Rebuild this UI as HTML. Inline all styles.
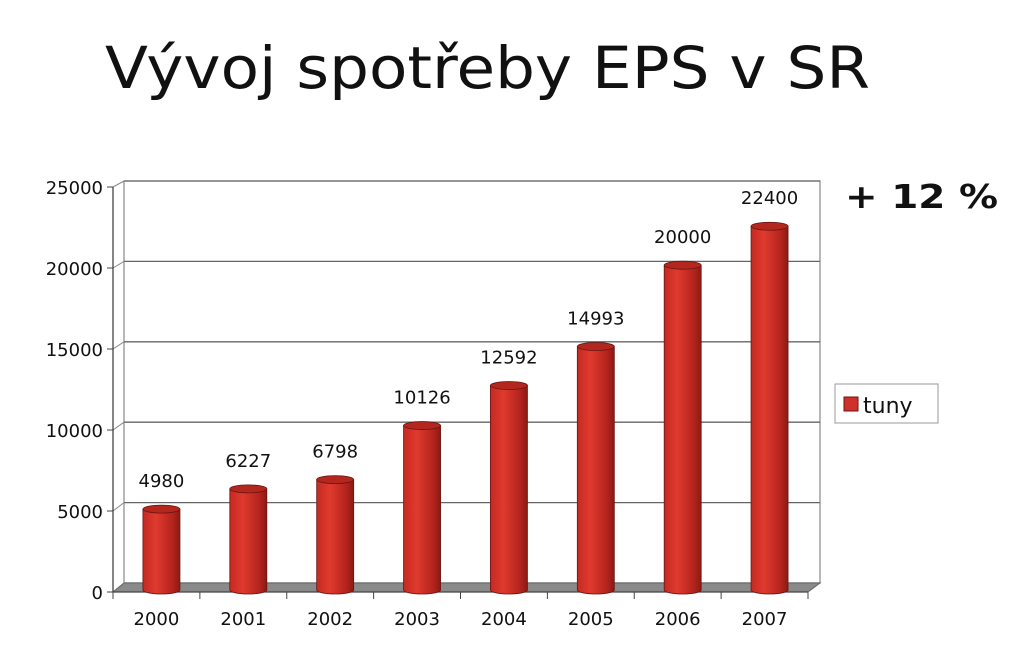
<!DOCTYPE html>
<html><head><meta charset="utf-8"><style>
html,body{margin:0;padding:0;background:#fff;}
svg{display:block;font-family:"DejaVu Sans","Liberation Sans",sans-serif;}
</style></head><body>
<svg id="chart" width="1024" height="659" viewBox="0 0 1024 659" xmlns="http://www.w3.org/2000/svg">
<defs>
<linearGradient id="cyl" x1="0" x2="1" y1="0" y2="0">
<stop offset="0" stop-color="#c42a22"/><stop offset="0.35" stop-color="#e03a2e"/><stop offset="0.8" stop-color="#b3241d"/><stop offset="1" stop-color="#8a1a14"/>
</linearGradient>
</defs>
<text x="105" y="88" font-size="58" fill="#111" textLength="765" lengthAdjust="spacingAndGlyphs">Vývoj spotřeby EPS v SR</text>
<text x="845" y="208" font-size="33" font-weight="bold" fill="#111" textLength="153" lengthAdjust="spacingAndGlyphs">+ 12 %</text>
<g id="plot"></g>
<g>
<rect x="835" y="384" width="103" height="39" fill="#fff" stroke="#999" stroke-width="1"/>
<rect x="844" y="397" width="14" height="14" fill="#d0302a" stroke="#6a1410"/>
<text x="863" y="413" font-size="22" fill="#111">tuny</text>
</g>
</svg>
<script>
const categories = ["2000","2001","2002","2003","2004","2005","2006","2007"];
const values = [4980, 6227, 6798, 10126, 12592, 14993, 20000, 22400];
const yTicks = [0, 5000, 10000, 15000, 20000, 25000];
const yMax = 25000;

const NS = "http://www.w3.org/2000/svg";
const g = document.getElementById("plot");
function mk(tag, attrs, parent){const e=document.createElementNS(NS,tag);for(const k in attrs)e.setAttribute(k,attrs[k]);(parent||g).appendChild(e);return e;}

const frontL=113, frontR=808, frontY=592, frontTop=187;
const dx=11, dy=-9;
const backL=frontL+dx, backR=frontR+12, backY=frontY+dy, backTop=181;
function yBack(v){return backY-(v/yMax)*(backY-backTop);}
function yFront(v){return frontY-(v/yMax)*(frontY-frontTop);}
function yBar(v){return 590-(v/yMax)*(590-184);}
const step=(frontR-frontL)/categories.length;
function xCat(i){return frontL+step*(i+0.5);}

let w=mk("rect",{x:backL,y:backTop,width:backR-backL,height:backY-backTop,fill:"#fff",stroke:"#888","stroke-width":1.2});


yTicks.forEach(v=>{
  let l=mk("line",{x1:backL,x2:backR,y1:yBack(v),y2:yBack(v),stroke:"#666","stroke-width":1.3});
  
  
  let d=mk("line",{x1:frontL,y1:yFront(v),x2:backL,y2:yBack(v),stroke:"#888","stroke-width":1});
  
  
  let t=mk("line",{x1:frontL-6,x2:frontL,y1:yFront(v),y2:yFront(v),stroke:"#444","stroke-width":1});
  
  
  let tx=mk("text",{x:103,y:yFront(v)+7,"text-anchor":"end","font-size":18,fill:"#111"});
  tx.textContent=v;
  
  
});
let fl=mk("polygon",{points:`${frontL},${frontY} ${frontR},${frontY} ${backR},${backY} ${backL},${backY}`,fill:"#8a8a8a",stroke:"#666"});


let ax=mk("line",{x1:frontL,x2:frontL,y1:frontTop,y2:frontY,stroke:"#444","stroke-width":1.3});


let ax2=mk("line",{x1:frontL,x2:frontR,y1:frontY,y2:frontY,stroke:"#444","stroke-width":1.3});


for(let i=0;i<=categories.length;i++){
  let t=mk("line",{x1:frontL+step*i,x2:frontL+step*i,y1:frontY,y2:frontY+7,stroke:"#444","stroke-width":1});
  
  
}
categories.forEach((c,i)=>{
  let t=mk("text",{x:xCat(i),y:625,"text-anchor":"middle","font-size":18,fill:"#111"});
  t.textContent=c;
  
  
});
const bw=37, ry=4;
values.forEach((v,i)=>{
  const cx=xCat(i)+5, top=yBar(v), bot=590;
  const grp=mk("g",{});
  
  
  mk("path",{d:`M${cx-bw/2},${top} L${cx-bw/2},${bot} A${bw/2},${ry} 0 0 0 ${cx+bw/2},${bot} L${cx+bw/2},${top} Z`,fill:"url(#cyl)",stroke:"#6a1410","stroke-width":0.8},grp);
  mk("ellipse",{cx:cx,cy:top,rx:bw/2,ry:ry,fill:"#b3271f",stroke:"#6a1410","stroke-width":0.8},grp);
  const lbl=mk("text",{x:cx,y:top-22,"text-anchor":"middle","font-size":18,fill:"#111"});
  lbl.textContent=v;
  
  
});
</script>
</body></html>
